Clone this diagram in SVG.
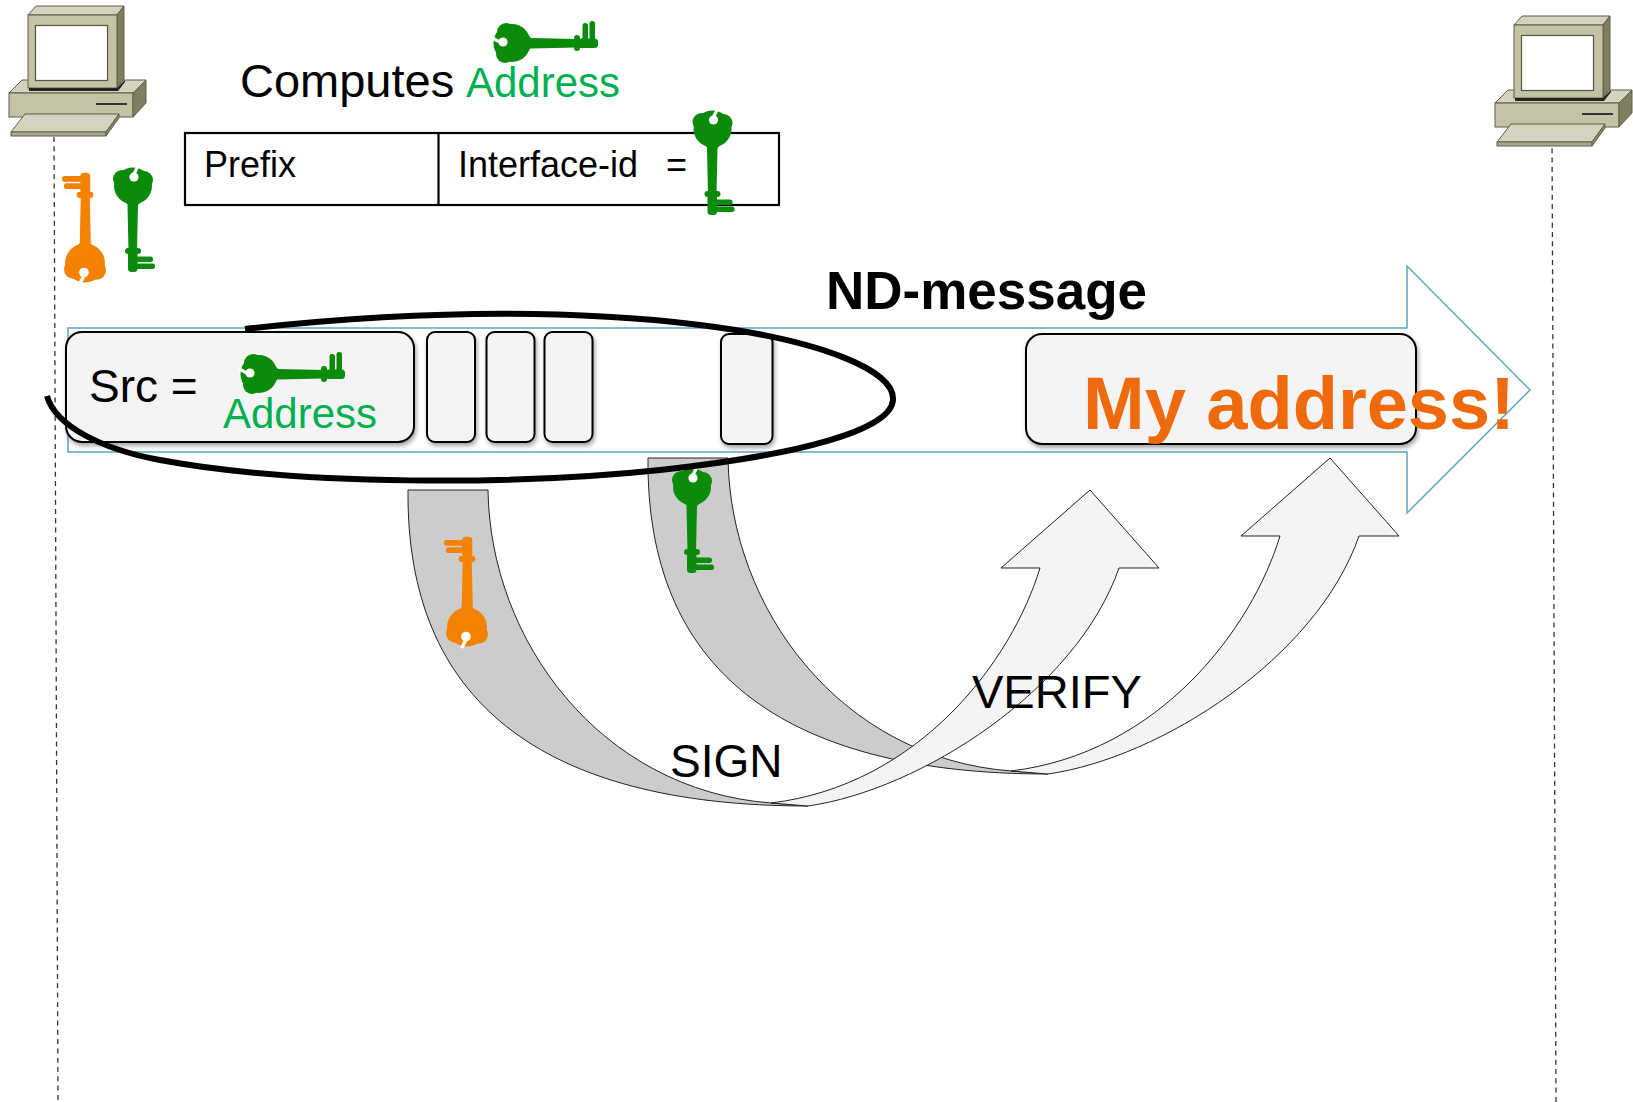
<svg xmlns="http://www.w3.org/2000/svg" xmlns:xlink="http://www.w3.org/1999/xlink" width="1633" height="1102" viewBox="0 0 1633 1102">
  <style>
    .txt { font-family: "Liberation Sans", Arial, Helvetica, sans-serif; fill: #000; }
    .bold { font-weight: bold; }
    .green { fill: #00b050; }
    .field { fill: #f4f4f4; stroke: #000; stroke-width: 2; filter: url(#shadow); }
    .lifeline { stroke: #333; stroke-width: 1.3; stroke-dasharray: 5 4.3; fill: none; }
    .band-back { fill: #cccccc; stroke: #222; stroke-width: 1; }
    .band-front { fill: #f4f4f4; stroke: #222; stroke-width: 1; }
    .pc-front { fill: #c2c2a6; stroke: #5e5e46; stroke-width: 1; }
    .pc-top { fill: #d3d3bf; stroke: #5e5e46; stroke-width: 1; }
    .pc-side { fill: #7e7e60; stroke: #5e5e46; stroke-width: 1; }
  </style>
  <defs>
    <filter id="shadow" x="-10%" y="-10%" width="125%" height="135%">
      <feDropShadow dx="1.5" dy="3" stdDeviation="2" flood-color="#000" flood-opacity="0.35"/>
    </filter>
    <!-- key pointing down: bow on top, bit at the bottom with teeth to the right -->
    <g id="key">
      <ellipse cx="0" cy="19" rx="19" ry="18.5"/>
      <circle cx="-11" cy="12" r="9"/>
      <circle cx="11" cy="13" r="9"/>
      <path d="M -10 31 Q 0 50 10 31 Z"/>
      <path d="M -5.5 38 L 5 38 L 4 84 L -4.5 84 Z"/>
      <rect x="-8" y="81" width="16" height="6" rx="3"/>
      <rect x="-5" y="85" width="9.5" height="20" rx="3.5"/>
      <rect x="2" y="89.5" width="18" height="5.5" rx="2.5"/>
      <rect x="2" y="96.5" width="20" height="5.5" rx="2.5"/>
      <circle cx="1" cy="10" r="4.6" fill="#fff"/>
      <path d="M 0 9 L 5 -1" stroke="#fff" stroke-width="3.2" fill="none"/>
    </g>
    <!-- curved arrow: shaded back band falling, light front band rising to its head -->
    <g id="curved-arrow">
      <path class="band-back" d="M 408 490 L 488 490 C 490 640 600 790 771 803 L 808 806 C 540 806 406 700 408 490 Z"/>
      <path class="band-front" d="M 771 803 C 920 785 1012 660 1040 568 L 1001 568 L 1090 490 L 1159 568 L 1119 568 C 1076.5 690.5 920 790 808 806 Z"/>
    </g>
    <!-- desktop computer icon -->
    <g id="pc">
      <polygon class="pc-top" points="9,93 22,80 146,80 133,93"/>
      <rect class="pc-front" x="9" y="93" width="124" height="24"/>
      <polygon class="pc-side" points="133,93 146,80 146,103 133,117"/>
      <line x1="96" y1="104" x2="127" y2="104" stroke="#111" stroke-width="1.6"/>
      <polygon class="pc-top" points="28,15 36,6 124,6 117,15"/>
      <polygon class="pc-side" points="117,15 124,6 124,79 117,88"/>
      <rect class="pc-front" x="28" y="15" width="89" height="73"/>
      <rect x="35.5" y="25.5" width="72" height="55" fill="#fff" stroke="#55553f" stroke-width="1.2"/>
      <polygon points="29,88 117,88 125,80 125,82 118,91 29,91" fill="#222"/>
      <polygon class="pc-top" points="11,132 25,114 119,114 106,132"/>
      <rect x="11" y="132" width="95" height="4" fill="#a8a88e" stroke="#5e5e46" stroke-width="1"/>
      <polygon points="106,132 119,114 119,118 106,136" fill="#8a8a6c" stroke="#5e5e46" stroke-width="1"/>
    </g>
  </defs>

  <rect width="1633" height="1102" fill="#fff"/>

  <g id="connectors">
    <line class="lifeline" x1="54" y1="137" x2="58" y2="1102"/>
    <line class="lifeline" x1="1552" y1="139" x2="1556" y2="1102"/>
    <polygon id="nd-message-arrow" points="68,328 1407,328 1407,266 1530,390 1407,513 1407,452 68,452" fill="none" stroke="#5fa6c4" stroke-width="1.5"/>
    <use id="verify-arrow" xlink:href="#curved-arrow" transform="translate(240,-32)"/>
    <use id="sign-arrow" xlink:href="#curved-arrow"/>
  </g>

  <g id="host-left">
    <use xlink:href="#pc"/>
    <use xlink:href="#key" fill="#f38200" transform="translate(85,283) rotate(180) scale(1.05)"/>
    <use xlink:href="#key" fill="#0a8c0a" transform="translate(133,167)"/>
  </g>

  <g id="host-right">
    <use xlink:href="#pc" transform="translate(1486,10)"/>
  </g>

  <g id="computes-label">
    <text class="txt" x="240" y="97" font-size="47">Computes</text>
    <text class="txt green" x="466" y="97" font-size="42">Address</text>
    <use xlink:href="#key" fill="#0a8c0a" transform="translate(493,43) rotate(-90)"/>
  </g>

  <g id="address-table">
    <rect x="185" y="133" width="594" height="72" fill="none" stroke="#000" stroke-width="2.2"/>
    <line x1="438.5" y1="133" x2="438.5" y2="205" stroke="#000" stroke-width="2.2"/>
    <text class="txt" x="204" y="177" font-size="36">Prefix</text>
    <text class="txt" x="458" y="177" font-size="36">Interface-id</text>
    <text class="txt" x="666" y="177" font-size="36">=</text>
    <use xlink:href="#key" fill="#0a8c0a" transform="translate(712.5,110)"/>
  </g>

  <g id="nd-message">
    <text class="txt bold" x="826" y="309" font-size="53">ND-message</text>
    <g id="src-field">
      <rect class="field" x="66" y="332" width="348" height="110" rx="16"/>
      <text class="txt" x="89" y="402" font-size="46">Src =</text>
      <use xlink:href="#key" fill="#0a8c0a" transform="translate(240,374) rotate(-90)"/>
      <text class="txt green" x="223" y="428" font-size="42">Address</text>
    </g>
    <rect id="field-1" class="field" x="427" y="332" width="48" height="110" rx="8"/>
    <rect id="field-2" class="field" x="486.5" y="332" width="48" height="110" rx="8"/>
    <rect id="field-3" class="field" x="544.5" y="332" width="48" height="110" rx="8"/>
    <rect id="field-signature" class="field" x="721" y="334" width="51.5" height="110" rx="8"/>
    <g id="my-address">
      <rect class="field" x="1026" y="334" width="390" height="110" rx="16"/>
      <text class="txt bold" x="1083" y="429" font-size="74" style="fill:#ee6a0c">My address!</text>
    </g>
  </g>

  <g id="sign">
    <use xlink:href="#key" fill="#f38200" transform="translate(467,647) rotate(180) scale(1.05)"/>
    <text class="txt" x="670" y="777" font-size="46">SIGN</text>
  </g>

  <g id="verify">
    <use xlink:href="#key" fill="#0a8c0a" transform="translate(692,468)"/>
    <text class="txt" x="972" y="708" font-size="47">VERIFY</text>
  </g>

  <!-- hand-drawn loop around the signed part of the message -->
  <path id="signed-scope" d="M 245 329 C 400 312 560 308 700 325 C 820 340 895 370 893 400 C 891 430 800 455 660 470 C 520 485 300 486 160 460 C 100 449 55 425 47 396" fill="none" stroke="#000" stroke-width="6"/>
</svg>
